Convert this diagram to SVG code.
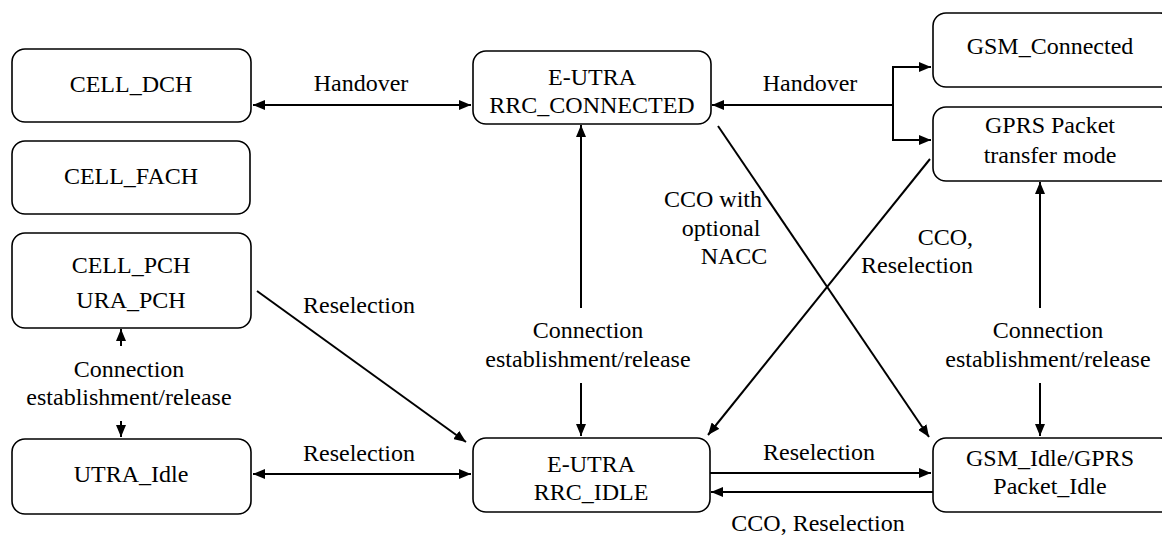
<svg xmlns="http://www.w3.org/2000/svg" width="1162" height="538" viewBox="0 0 1162 538">
<style>
.box{fill:#fff;stroke:#000;stroke-width:1.6}
text{font-family:"Liberation Serif","Times New Roman",serif;font-size:24px;fill:#000;text-anchor:middle}
.c{fill:none;stroke:#000;stroke-width:2}
</style>
<defs>
<marker id="ah" viewBox="0 0 12 10" refX="12" refY="5" markerWidth="12" markerHeight="10" markerUnits="userSpaceOnUse" orient="auto-start-reverse">
<path d="M0,0 L12,5 L0,10 z" fill="#000"/>
</marker>
</defs>
<rect width="1162" height="538" fill="#fff"/>
<g id="connectors">
<line class="c" x1="253" y1="105" x2="471" y2="105" marker-start="url(#ah)" marker-end="url(#ah)"/>
<line class="c" x1="893" y1="105" x2="712" y2="105" marker-end="url(#ah)"/>
<path class="c" d="M931,67 L893,67 L893,140 L931,140" marker-start="url(#ah)" marker-end="url(#ah)"/>
<line class="c" x1="581" y1="308" x2="581" y2="125" marker-end="url(#ah)"/>
<line class="c" x1="581" y1="383" x2="581" y2="436" marker-end="url(#ah)"/>
<line class="c" x1="1040" y1="308" x2="1040" y2="182" marker-end="url(#ah)"/>
<line class="c" x1="1040" y1="383" x2="1040" y2="436" marker-end="url(#ah)"/>
<line class="c" x1="121" y1="346" x2="121" y2="329" marker-end="url(#ah)"/>
<line class="c" x1="121" y1="421" x2="121" y2="437" marker-end="url(#ah)"/>
<line class="c" x1="257" y1="291" x2="466" y2="442" marker-end="url(#ah)"/>
<line class="c" x1="253" y1="474" x2="471" y2="474" marker-start="url(#ah)" marker-end="url(#ah)"/>
<line class="c" x1="718" y1="126" x2="929" y2="437" marker-end="url(#ah)"/>
<line class="c" x1="930" y1="159" x2="708" y2="435" marker-end="url(#ah)"/>
<line class="c" x1="710" y1="473" x2="931" y2="473" marker-end="url(#ah)"/>
<line class="c" x1="933" y1="492" x2="711" y2="492" marker-end="url(#ah)"/>
<text x="361" y="91">Handover</text>
<text x="810" y="91">Handover</text>
<text x="359" y="313">Reselection</text>
<text x="129" y="377">Connection</text>
<text x="129" y="405">establishment/release</text>
<text x="359" y="461">Reselection</text>
<text x="588" y="338">Connection</text>
<text x="588" y="367">establishment/release</text>
<text x="713" y="207">CCO with</text>
<text x="721" y="236">optional</text>
<text x="734" y="264">NACC</text>
<text x="973" y="245" style="text-anchor:end">CCO,</text>
<text x="973" y="273" style="text-anchor:end">Reselection</text>
<text x="1048" y="338">Connection</text>
<text x="1048" y="367">establishment/release</text>
<text x="819" y="460">Reselection</text>
<text x="818" y="531">CCO, Reselection</text>
</g>
<g id="cell_dch"><rect class="box" x="12" y="49" width="239" height="73" rx="13"/><text x="131" y="92">CELL_DCH</text></g>
<g id="cell_fach"><rect class="box" x="12" y="141" width="238" height="73" rx="13"/><text x="131" y="184">CELL_FACH</text></g>
<g id="cell_pch"><rect class="box" x="12" y="233" width="239" height="95" rx="13"/><text x="131" y="273">CELL_PCH</text><text x="131" y="308">URA_PCH</text></g>
<g id="utra_idle"><rect class="box" x="12" y="439" width="239" height="75" rx="13"/><text x="131" y="482">UTRA_Idle</text></g>
<g id="eutra_connected"><rect class="box" x="473" y="51" width="238" height="73" rx="13"/><text x="592" y="85">E-UTRA</text><text x="592" y="113">RRC_CONNECTED</text></g>
<g id="eutra_idle"><rect class="box" x="473" y="438" width="237" height="74" rx="13"/><text x="591" y="472">E-UTRA</text><text x="591" y="500">RRC_IDLE</text></g>
<g id="gsm_connected"><rect class="box" x="933" y="13" width="240" height="74" rx="13"/><text x="1050" y="54">GSM_Connected</text></g>
<g id="gprs_transfer"><rect class="box" x="933" y="107" width="240" height="74" rx="13"/><text x="1050" y="133">GPRS Packet</text><text x="1050" y="163">transfer mode</text></g>
<g id="gsm_idle"><rect class="box" x="933" y="438" width="240" height="74" rx="13"/><text x="1050" y="466">GSM_Idle/GPRS</text><text x="1050" y="494">Packet_Idle</text></g>
</svg>
